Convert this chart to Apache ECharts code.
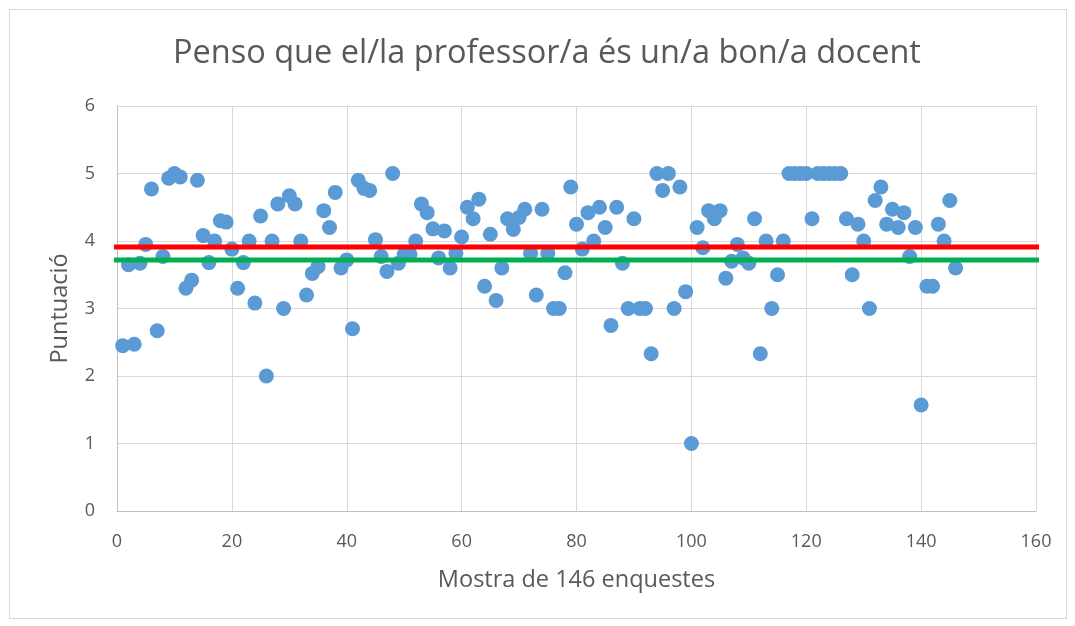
<!DOCTYPE html>
<html>
<head>
<meta charset="utf-8">
<script src="https://cdn.jsdelivr.net/npm/echarts@6/dist/echarts.min.js"></script>
<style>
  html, body { margin: 0; padding: 0; background: #fff; }
  #frame { position: absolute; left: 9px; top: 9px; width: 1056px; height: 608px; border: 1px solid #d9d9d9; }
  #chart { width: 1075px; height: 626px; }
</style>
</head>
<body>
<div id="frame"></div>
<div id="chart"></div>
<script>
// puntuació de cada enquesta (mostra 1..146)
var puntuacio = [
  2.45, 3.65, 2.47, 3.67, 3.95, 4.77, 2.67, 3.77, 4.93, 5.00,
  4.95, 3.30, 3.42, 4.90, 4.08, 3.68, 4.00, 4.30, 4.28, 3.88,
  3.30, 3.68, 4.00, 3.08, 4.37, 2.00, 4.00, 4.55, 3.00, 4.67,
  4.55, 4.00, 3.20, 3.52, 3.62, 4.45, 4.20, 4.72, 3.60, 3.72,
  2.70, 4.90, 4.78, 4.75, 4.02, 3.77, 3.55, 5.00, 3.67, 3.80,
  3.80, 4.00, 4.55, 4.42, 4.18, 3.75, 4.15, 3.60, 3.82, 4.06,
  4.50, 4.33, 4.62, 3.33, 4.10, 3.12, 3.60, 4.33, 4.17, 4.35,
  4.47, 3.82, 3.20, 4.47, 3.82, 3.00, 3.00, 3.53, 4.80, 4.25,
  3.88, 4.42, 4.00, 4.50, 4.20, 2.75, 4.50, 3.67, 3.00, 4.33,
  3.00, 3.00, 2.33, 5.00, 4.75, 5.00, 3.00, 4.80, 3.25, 1.00,
  4.20, 3.90, 4.45, 4.33, 4.45, 3.45, 3.70, 3.95, 3.75, 3.67,
  4.33, 2.33, 4.00, 3.00, 3.50, 4.00, 5.00, 5.00, 5.00, 5.00,
  4.33, 5.00, 5.00, 5.00, 5.00, 5.00, 4.33, 3.50, 4.25, 4.00,
  3.00, 4.60, 4.80, 4.25, 4.47, 4.20, 4.42, 3.77, 4.20, 1.57,
  3.33, 3.33, 4.25, 4.00, 4.60, 3.60
];
var mitjanaGlobal = 3.91;   // línia vermella
var mitjanaRef = 3.72;      // línia verda
var liniaX = [-1.5, 161.8];

var punts = puntuacio.map(function (v, i) { return [i + 1, v]; });

var myChart = echarts.init(document.getElementById('chart'));
var option = {
  animation: false,
  textStyle: { fontFamily: 'Open Sans', color: '#595959' },
  title: {
    text: 'Penso que el/la professor/a és un/a bon/a docent',
    left: 168, top: 32,
    textStyle: { fontFamily: 'Open Sans', fontSize: 32.5, fontWeight: 'normal', color: '#595959' }
  },
  grid: { left: 117, right: 39, top: 106, bottom: 115 },
  xAxis: {
    type: 'value', min: 0, max: 160, interval: 20,
    name: 'Mostra de 146 enquestes', nameLocation: 'middle', nameGap: 57,
    nameTextStyle: { fontSize: 23.5, color: '#595959' },
    axisLine: { show: true, onZero: false, lineStyle: { color: '#bfbfbf', width: 1 } },
    axisTick: { show: false },
    axisLabel: { fontSize: 18, color: '#595959', margin: 22 },
    splitLine: { show: true, lineStyle: { color: '#d9d9d9', width: 1 } }
  },
  yAxis: {
    type: 'value', min: 0, max: 6, interval: 1,
    name: 'Puntuació', nameLocation: 'middle', nameGap: 45, nameRotate: 90,
    nameTextStyle: { fontSize: 23.5, color: '#595959' },
    axisLine: { show: true, lineStyle: { color: '#bfbfbf', width: 1 } },
    axisTick: { show: false },
    axisLabel: { fontSize: 18, color: '#595959', margin: 22 },
    splitLine: { show: true, lineStyle: { color: '#d9d9d9', width: 1 } }
  },
  series: [
    {
      type: 'scatter',
      data: punts,
      symbolSize: 15,
      itemStyle: { color: '#5b9bd5', opacity: 1 },
      z: 3
    },
    {
      type: 'line',
      data: liniaX.map(function (x) { return [x, mitjanaGlobal]; }),
      symbol: 'none', clip: false,
      lineStyle: { color: '#ff0000', width: 5 },
      z: 4
    },
    {
      type: 'line',
      data: liniaX.map(function (x) { return [x, mitjanaRef]; }),
      symbol: 'none', clip: false,
      lineStyle: { color: '#00b050', width: 5 },
      z: 4
    }
  ]
};
myChart.setOption(option);
</script>
</body>
</html>
